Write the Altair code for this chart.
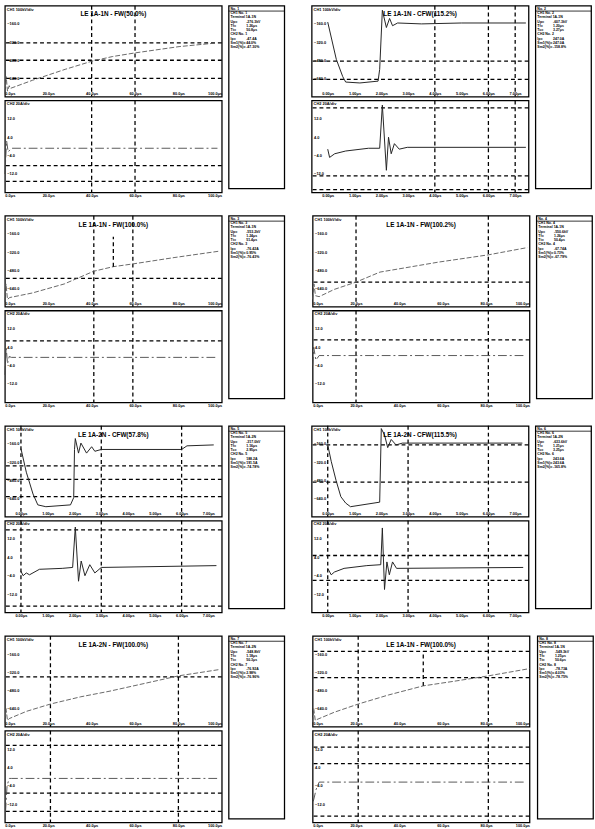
import altair as alt
import pandas as pd

FONT = "Liberation Sans"

# ---------------- shared axes ----------------
fw_time_domain = [0, 100]
fw_time_ticks = [0, 20, 40, 60, 80, 100]
cfw_time_domain = [-0.6, 7.5]
cfw_time_ticks = [0, 1, 2, 3, 4, 5, 6, 7]
level_ticks = [20, 40, 60, 80]

# ---------------- panel 1 ----------------
p1_title = "LE 1A-1N - FW(50.0%)"
p1_top_t = [0, 0.6, 1.2, 2.0, 2.5, 12.8, 27.8, 40.2, 49.5, 59.8, 80.3, 97.6]
p1_top_v = [3, 22, 6, 12, 9, 18, 30, 39, 44, 48, 55, 59]
p1_bot_t = [0, 0.8, 1.5, 3.0, 98]
p1_bot_v = [20, 56, 44, 48, 48]
p1_top_grid = [59, 40, 20]
p1_bot_grid = [29, 12]
p1_cursors = [40, 60]
p1_info_lab = ["No. 1", "CH1 No. 1", "Terminal 1A-1N", "Up=", "Tf=", "Tt=", "CH2 No. 1", "Ip=", "Sm1(%)=", "Sm2(%)="]
p1_info_val = ["", "", "", "-276.3kV", "1.26μs", "50.8μs", "", "-47.4A", "44.0%", "-47.30%"]

# ---------------- panel 2 ----------------
p2_title = "LE 1A-1N - CFW(115.2%)"
p2_top_t = [0.0, 0.32, 0.56, 0.67, 1.2, 1.88, 1.94, 2.04, 2.19, 2.31, 2.42, 2.61, 3.5, 5.0, 7.4]
p2_top_v = [82, 41, 22, 16, 15, 17, 30, 95, 76, 86, 78, 81, 80, 81, 81]
p2_bot_t = [0.0, 0.07, 0.26, 0.67, 1.52, 1.94, 2.04, 2.19, 2.27, 2.37, 2.49, 2.67, 2.97, 7.4]
p2_bot_v = [47, 38, 42, 45, 48, 48, 95, 24, 60, 42, 53, 47, 49, 49]
p2_top_grid = [39, 19]
p2_bot_grid = [92, 18, 3]
p2_cursors = [4, 6, 7]
p2_info_lab = ["No. 2", "CH1 No. 2", "Terminal 1A-1N", "Up=", "Tf=", "Tc=", "CH2 No. 2", "Ip=", "Sm1(%)=", "Sm2(%)="]
p2_info_val = ["", "", "", "-607.3kV", "1.20μs", "3.27μs", "", "247.0A", "247.0A", "-158.8%"]

# ---------------- panel 3 ----------------
p3_title = "LE 1A-1N - FW(100.0%)"
p3_top_t = [0, 0.5, 1.2, 2.2, 12.6, 27.4, 41, 50, 59, 78, 98.7]
p3_top_v = [5, 25, 8, 10, 15, 25, 39, 44, 47, 54, 61]
p3_bot_t = [0, 0.6, 1.2, 2.0, 3.0, 98]
p3_bot_v = [30, 60, 42, 50, 49, 49]
p3_top_grid = [31]
p3_bot_grid = [67]
p3_cursors = [41, 59]
p3_mark_t = [50]
p3_mark_lo = [44]
p3_mark_hi = [77]
p3_info_lab = ["No. 3", "CH1 No. 3", "Terminal 1A-1N", "Up=", "Tf=", "Tt=", "CH2 No. 3", "Ip=", "Sm1(%)=", "Sm2(%)="]
p3_info_val = ["", "", "", "-553.2kV", "1.24μs", "51.4μs", "", "-76.42A", "0.95%", "-76.43%"]

# ---------------- panel 4 ----------------
p4_title = "LE 1A-1N - FW(100.2%)"
p4_top_t = [0, 0.6, 1.3, 3, 10, 20, 31, 58, 81, 99]
p4_top_v = [8, 25, 12, 11, 19, 27, 38, 49, 57, 65]
p4_bot_t = [0, 0.5, 1.5, 3, 98]
p4_bot_v = [40, 60, 46, 51, 51]
p4_top_grid = [27]
p4_bot_grid = [68]
p4_cursors = [20, 81]
p4_info_lab = ["No. 4", "CH1 No. 4", "Terminal 1A-1N", "Up=", "Tf=", "Tt=", "CH2 No. 4", "Ip=", "Sm1(%)=", "Sm2(%)="]
p4_info_val = ["", "", "", "-550.6kV", "1.26μs", "50.4μs", "", "-67.74A", "0.73%", "-67.79%"]

# ---------------- panel 5 ----------------
p5_title = "LE 1A-2N - CFW(57.8%)"
p5_top_t = [0, 0.2, 0.45, 0.63, 0.93, 1.85, 1.97, 2.0, 2.03, 2.15, 2.24, 2.45, 2.64, 2.76, 3.0, 6.0, 6.2, 7.2]
p5_top_v = [75, 49, 25, 13, 11, 13, 21, 74, 86, 70, 81, 70, 77, 72, 74, 74, 78, 79]
p5_bot_t = [0, 0.08, 0.2, 0.32, 0.69, 1.54, 1.93, 2.03, 2.15, 2.25, 2.39, 2.57, 2.76, 3.0, 7.3]
p5_bot_v = [45, 40, 43, 41, 47, 48, 49, 93, 34, 56, 40, 52, 43, 49, 51]
p5_top_grid = [56, 41, 22]
p5_bot_grid = [90, 7]
p5_cursors = [0, 3, 6]
p5_info_lab = ["No. 5", "CH1 No. 5", "Terminal 1A-2N", "Up=", "Tf=", "Tc=", "CH2 No. 5", "Ip=", "Sm1(%)=", "Sm2(%)="]
p5_info_val = ["", "", "", "-317.0kV", "1.16μs", "2.95μs", "", "188.2A", "191.5A", "-74.78%"]

# ---------------- panel 6 ----------------
p6_title = "LE 1A-2N - FW(100.0%)"
p6_top_t = [0, 0.5, 1.2, 2, 10, 21, 35, 48, 65, 80, 99]
p6_top_v = [4, 20, 7, 9, 17, 25, 33, 39, 48, 56, 63]
p6_bot_t = [0.3, 1.0, 2.0, 3.0, 98]
p6_bot_v = [12, 40, 48, 48, 48]
p6_top_grid = [55]
p6_bot_grid = [84, 32, 12]
p6_cursors = [21, 80]
p6_info_lab = ["No. 7", "CH1 No. 7", "Terminal 1A-2N", "Up=", "Tf=", "Tt=", "CH2 No. 7", "Ip=", "Sm1(%)=", "Sm2(%)="]
p6_info_val = ["", "", "", "-548.8kV", "1.18μs", "50.3μs", "", "-76.92A", "2.98%", "-76.96%"]

# ---------------- panel 7 ----------------
p7_title = "LE 1A-2N - CFW(115.5%)"
p7_top_t = [0, 0.13, 0.31, 0.49, 0.67, 0.85, 1.94, 2.0, 2.12, 2.24, 2.37, 2.55, 2.79, 7.27]
p7_top_v = [79, 61, 40, 22, 15, 11, 16, 97, 90, 76, 85, 79, 81, 81]
p7_bot_t = [0, 0.13, 0.25, 0.61, 1.46, 1.98, 2.04, 2.12, 2.21, 2.3, 2.42, 2.57, 7.3]
p7_bot_v = [48, 41, 44, 48, 51, 52, 92, 25, 55, 41, 55, 48, 49]
p7_top_grid = [79, 38]
p7_bot_grid = [62, 35]
p7_cursors = [0, 3, 6]
p7_info_lab = ["No. 6", "CH1 No. 6", "Terminal 1A-2N", "Up=", "Tf=", "Tc=", "CH2 No. 6", "Ip=", "Sm1(%)=", "Sm2(%)="]
p7_info_val = ["", "", "", "-633.6kV", "1.21μs", "3.25μs", "", "243.6A", "243.6A", "-165.8%"]

# ---------------- panel 8 ----------------
p8_title = "LE 1A-1N - FW(100.0%)"
p8_top_t = [0, 0.5, 1.2, 2, 10, 21, 35, 51, 65, 81, 100]
p8_top_v = [5, 20, 7, 8, 16, 25, 35, 45, 50, 56, 64]
p8_bot_t = [0.3, 1.0, 1.6, 3.0, 98]
p8_bot_v = [23, 30, 36, 44, 44]
p8_top_grid = [83, 54]
p8_bot_grid = [82, 64, 7]
p8_cursors = [21, 81]
p8_mark_t = [51]
p8_mark_lo = [45]
p8_mark_hi = [83]
p8_info_lab = ["No. 8", "CH1 No. 8", "Terminal 1A-1N", "Up=", "Tf=", "Tt=", "CH2 No. 8", "Ip=", "Sm1(%)=", "Sm2(%)="]
p8_info_val = ["", "", "", "-549.3kV", "1.25μs", "50.6μs", "", "-78.73A", "4.03%", "-78.75%"]

PLOT_W = 222
TOP_H = 93
BOT_H = 94
INFO_W = 57

GRID_STYLE = dict(color="black", strokeDash=[4, 3], strokeWidth=1.3)


def axis_common(**kw):
    base = dict(title=None, grid=False, domain=False, ticks=False, tickSize=0,
                labelFontSize=4, labelFont=FONT, labelFontWeight="bold",
                labelColor="black")
    base.update(kw)
    return alt.Axis(**base)


def plot_pair(kind, title, top_t, top_v, bot_t, bot_v, top_grid, bot_grid,
              cursors, mark=None):
    if kind == "FW":
        dom, ticks, xfmt = fw_time_domain, fw_time_ticks, "format(datum.value, '.1f') + 'μs'"
        top_style = dict(color="#555", strokeWidth=0.9, strokeDash=[5, 2])
        bot_style = dict(color="#444", strokeWidth=0.9, strokeDash=[9, 3, 2, 3])
    else:
        dom, ticks, xfmt = cfw_time_domain, cfw_time_ticks, "format(datum.value, '.2f') + 'μs'"
        top_style = dict(color="#222", strokeWidth=1.0)
        bot_style = dict(color="#222", strokeWidth=1.0)
    mid = (dom[0] + dom[1]) / 2
    xs = alt.Scale(domain=dom, nice=False, zero=False)
    ys = alt.Scale(domain=[0, 100], nice=False, zero=False)

    x_top_ax = axis_common(values=ticks, labelExpr=xfmt, labelBaseline="bottom",
                           labelPadding=-1, labelFlush=True)
    x_bot_ax = axis_common(values=ticks, labelExpr=xfmt, labelBaseline="top",
                           labelPadding=1, labelFlush=True)
    y_top_ax = axis_common(values=level_ticks, orient="left", labelAlign="left", labelPadding=-2,
                           labelExpr="format((datum.value - 100) * 8, '.1f')")
    y_bot_ax = axis_common(values=level_ticks, orient="left", labelAlign="left", labelPadding=-2,
                           labelExpr="format((datum.value - 50) * 0.4, '.1f')")

    def build(t, v, grid, xax, yax, style, h, head, corner):
        X = alt.X("t:Q", scale=xs, axis=xax)
        Y = alt.Y("v:Q", scale=ys, axis=yax)
        layers = [
            alt.Chart(pd.DataFrame({"t": cursors})).mark_rule(**GRID_STYLE).encode(x=X),
            alt.Chart(pd.DataFrame({"v": grid})).mark_rule(**GRID_STYLE).encode(y=Y),
            alt.Chart(pd.DataFrame({"t": t, "v": v})).mark_line(**style).encode(x=X, y=Y),
            alt.Chart(pd.DataFrame({"t": [dom[0]], "v": [100], "s": [corner]}))
            .mark_text(align="left", baseline="top", dx=2, dy=2, fontSize=4, font=FONT,
                       fontWeight="bold", color="black")
            .encode(x=X, y=Y, text="s:N"),
        ]
        if head:
            layers.append(
                alt.Chart(pd.DataFrame({"t": [mid], "v": [100], "s": [title]}))
                .mark_text(align="center", baseline="top", dy=6, fontSize=6.5, font=FONT,
                           fontWeight="bold", color="black")
                .encode(x=X, y=Y, text="s:N"))
        if head and mark is not None:
            mt, lo, hi = mark
            layers.append(
                alt.Chart(pd.DataFrame({"t": mt, "v": lo, "v2": hi}))
                .mark_rule(**GRID_STYLE).encode(x=X, y=Y, y2="v2:Q"))
        return alt.layer(*layers).properties(width=PLOT_W, height=h)

    top = build(top_t, top_v, top_grid, x_top_ax, y_top_ax, top_style, TOP_H, True, "CH1 100kV/div")
    bot = build(bot_t, bot_v, bot_grid, x_bot_ax, y_bot_ax, bot_style, BOT_H, False, "CH2 20A/div")
    return alt.vconcat(top, bot, spacing=0)


def info_box(lab, val):
    df = pd.DataFrame({"i": list(range(len(lab))), "lab": lab, "val": val})
    iy = alt.Y("i:Q", scale=alt.Scale(domain=[-0.7, 42], reverse=True, nice=False, zero=False), axis=None)
    txt = dict(align="left", baseline="middle", fontSize=3.6, font=FONT, fontWeight="bold", color="black")
    rule = alt.Chart(pd.DataFrame({"i": [0.55]})).mark_rule(color="black", strokeWidth=0.8).encode(y=iy)
    t1 = alt.Chart(df).mark_text(**txt).encode(x=alt.value(2), y=iy, text="lab:N")
    t2 = alt.Chart(df).mark_text(**txt).encode(x=alt.value(18), y=iy, text="val:N")
    return alt.layer(rule, t1, t2).properties(width=INFO_W, height=TOP_H + BOT_H)


def cell(kind, title, top_t, top_v, bot_t, bot_v, top_grid, bot_grid, cursors, lab, val, mark=None):
    return alt.hconcat(
        plot_pair(kind, title, top_t, top_v, bot_t, bot_v, top_grid, bot_grid, cursors, mark),
        info_box(lab, val), spacing=3)


c1 = cell("FW", p1_title, p1_top_t, p1_top_v, p1_bot_t, p1_bot_v, p1_top_grid, p1_bot_grid, p1_cursors, p1_info_lab, p1_info_val)
c2 = cell("CFW", p2_title, p2_top_t, p2_top_v, p2_bot_t, p2_bot_v, p2_top_grid, p2_bot_grid, p2_cursors, p2_info_lab, p2_info_val)
c3 = cell("FW", p3_title, p3_top_t, p3_top_v, p3_bot_t, p3_bot_v, p3_top_grid, p3_bot_grid, p3_cursors, p3_info_lab, p3_info_val,
          (p3_mark_t, p3_mark_lo, p3_mark_hi))
c4 = cell("FW", p4_title, p4_top_t, p4_top_v, p4_bot_t, p4_bot_v, p4_top_grid, p4_bot_grid, p4_cursors, p4_info_lab, p4_info_val)
c5 = cell("CFW", p5_title, p5_top_t, p5_top_v, p5_bot_t, p5_bot_v, p5_top_grid, p5_bot_grid, p5_cursors, p5_info_lab, p5_info_val)
c6 = cell("FW", p6_title, p6_top_t, p6_top_v, p6_bot_t, p6_bot_v, p6_top_grid, p6_bot_grid, p6_cursors, p6_info_lab, p6_info_val)
c7 = cell("CFW", p7_title, p7_top_t, p7_top_v, p7_bot_t, p7_bot_v, p7_top_grid, p7_bot_grid, p7_cursors, p7_info_lab, p7_info_val)
c8 = cell("FW", p8_title, p8_top_t, p8_top_v, p8_bot_t, p8_bot_v, p8_top_grid, p8_bot_grid, p8_cursors, p8_info_lab, p8_info_val,
          (p8_mark_t, p8_mark_lo, p8_mark_hi))

rows = [alt.hconcat(a, b, spacing=24) for a, b in [(c1, c2), (c3, c4), (c5, c7), (c6, c8)]]

chart = (
    alt.vconcat(*rows, spacing=16)
    .properties(padding={"left": 2, "top": -6, "right": 0, "bottom": 0})
    .configure(font=FONT, background="white")
    .configure_view(stroke="black", strokeWidth=1.3)
)

chart.save("out.html", embed_options={"renderer": "svg", "actions": False})
